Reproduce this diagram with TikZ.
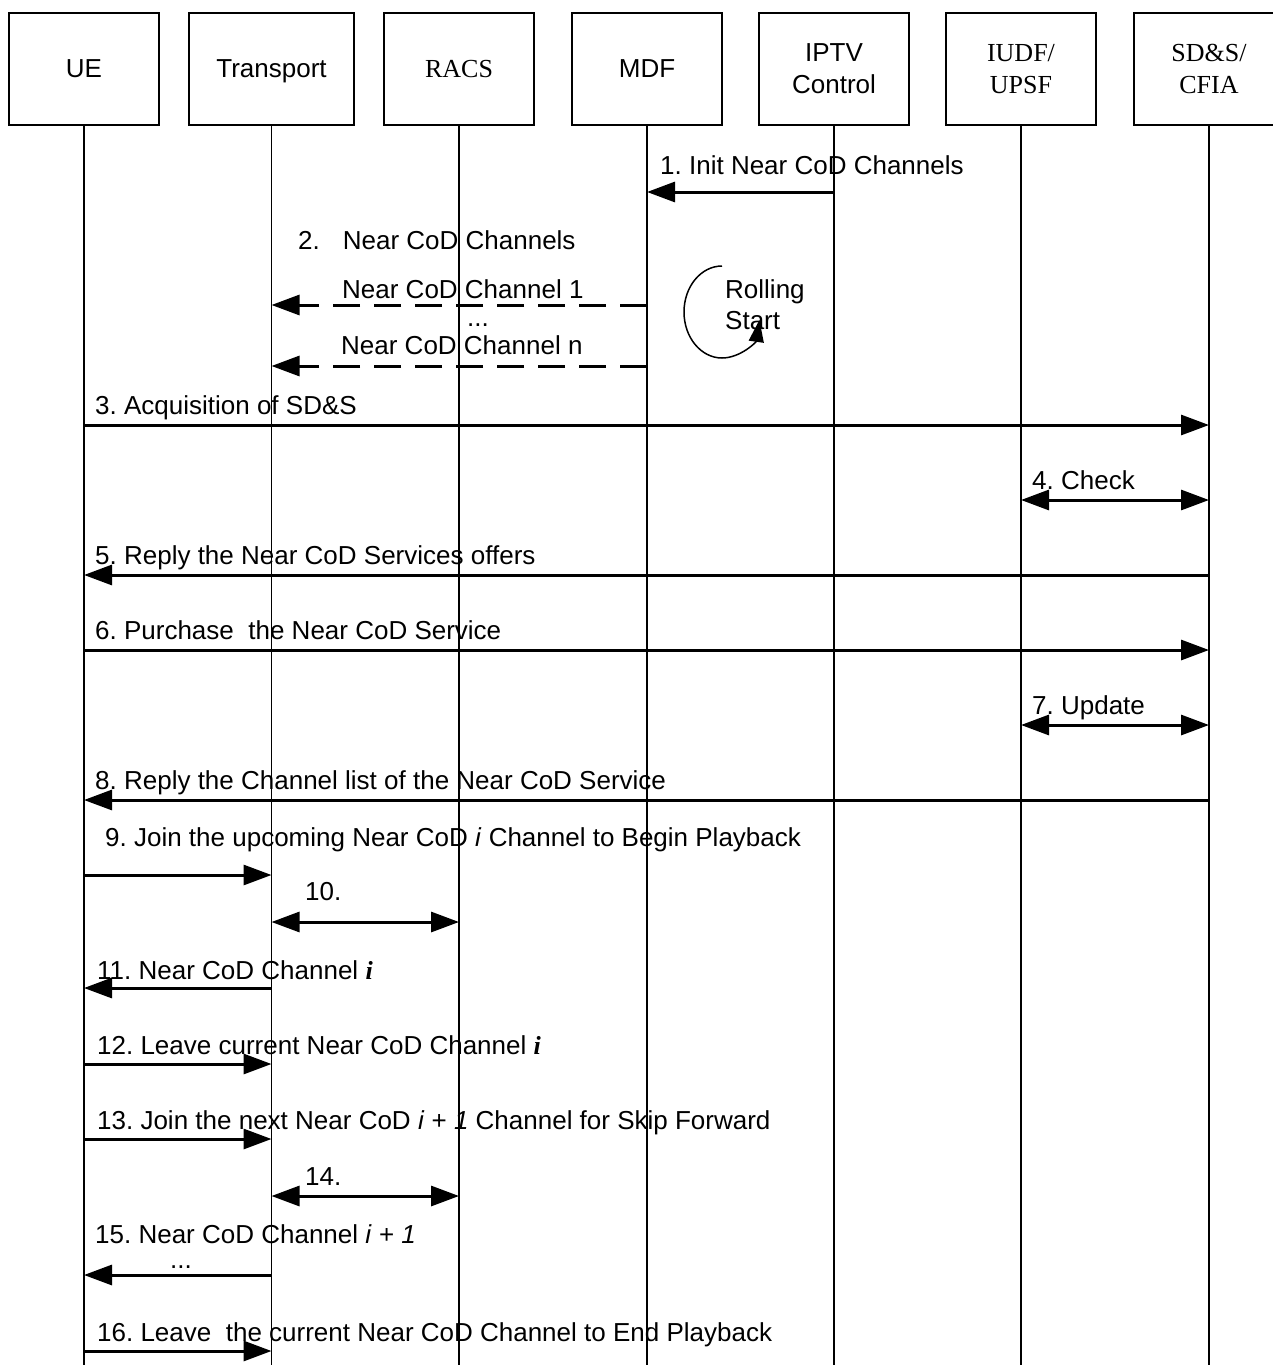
\documentclass[tikz,border=0pt]{standalone}
\usepackage{fontspec}
\setmainfont{Liberation Sans}
\newfontfamily\tnr{Liberation Serif}
\usetikzlibrary{arrows.meta}
\frenchspacing
\begin{document}
\frenchspacing
\begin{tikzpicture}[x=1pt,y=-1pt,
  font=\fontsize{26}{32}\selectfont,
  head/.style={draw, line width=1.5pt, minimum width=150pt, minimum height=112pt, inner sep=0pt, align=center},
  life/.style={line width=1.5pt},
  msg/.style={line width=3pt, -{Triangle[length=28pt,width=20pt]}},
  dmsg/.style={line width=3pt, {Triangle[length=28pt,width=20pt]}-{Triangle[length=28pt,width=20pt]}},
  dsh/.style={msg, dash pattern=on 27pt off 14pt},
  lbl/.style={anchor=base west, inner sep=0pt}]
\useasboundingbox (0,0) rectangle (1273,1365);
% heads
\node[head] (ue) at (84,69) {UE};
\node[head, minimum width=165pt, text depth=0pt] (tr) at (271.5,69) {Transport};
\node[head, font=\fontsize{26}{32}\selectfont\tnr] (racs) at (459,69) {RACS};
\node[head] (mdf) at (647,69) {MDF};
\node[head] (iptv) at (834,69) {IPTV\\Control};
\node[head, font=\fontsize{26}{32}\selectfont\tnr] (iudf) at (1021,69) {IUDF/\\UPSF};
\node[head, font=\fontsize{26}{32}\selectfont\tnr] (sds) at (1209,69) {SD\&S/\\CFIA};
% lifelines
\foreach \n in {ue,tr,racs,mdf,iptv,iudf,sds}{
  \coordinate (\n E) at (\n |- 0,1365);
  \draw[life] (\n) -- (\n E);
}
% 1
\node[lbl] (l1) at (660,174) {1. Init Near CoD Channels};
\draw[msg] (iptv |- 0,192) -- (mdf |- 0,192);
% 2
\node[lbl] (l2) at (298,249) {2.\hspace{23pt}Near CoD Channels};
\node[lbl] (l2a) at (342,298) {Near CoD Channel 1};
\node[lbl] (l2d) at (467,326) {...};
\draw[dsh] (mdf |- 0,305) -- (tr |- 0,305);
\node[lbl] (l2b) at (341,354) {Near CoD Channel n};
\draw[dsh] (mdf |- 0,366) -- (tr |- 0,366);
% rolling start
\node[lbl] (roll) at (725,298) {Rolling};
\node[lbl] (start) at (725,329) {Start};
\draw[line width=1.5pt, -{Triangle[length=22pt,width=15pt]}] (722,266) arc[start angle=-90, end angle=-350, x radius=38, y radius=46];
% 3
\node[lbl] (l3) at (95,414) {3. Acquisition of SD\&S};
\draw[msg] (ue |- 0,425) -- (sds |- 0,425);
% 4
\node[lbl] (l4) at (1032,489) {4. Check};
\draw[dmsg] (iudf |- 0,500) -- (sds |- 0,500);
% 5
\node[lbl] (l5) at (95,564) {5. Reply the Near CoD Services offers};
\draw[msg] (sds |- 0,575) -- (ue |- 0,575);
% 6
\node[lbl] (l6) at (95,639) {6. Purchase\ \ the Near CoD Service};
\draw[msg] (ue |- 0,650) -- (sds |- 0,650);
% 7
\node[lbl] (l7) at (1032,714) {7. Update};
\draw[dmsg] (iudf |- 0,725) -- (sds |- 0,725);
% 8
\node[lbl] (l8) at (95,789) {8. Reply the Channel list of the Near CoD Service};
\draw[msg] (sds |- 0,800) -- (ue |- 0,800);
% 9
\node[lbl] (l9) at (105,846) {9. Join the upcoming Near CoD \textit{i} Channel to Begin Playback};
\draw[msg] (ue |- 0,875) -- (tr |- 0,875);
% 10
\node[lbl] (l10) at (305,900) {10.};
\draw[dmsg] (tr |- 0,922) -- (racs |- 0,922);
% 11
\node[lbl] (l11) at (97,979) {11. Near CoD Channel {\tnr\bfseries\itshape i}};
\draw[msg] (tr |- 0,988) -- (ue |- 0,988);
% 12
\node[lbl] (l12) at (97,1054) {12. Leave current Near CoD Channel {\tnr\bfseries\itshape i}};
\draw[msg] (ue |- 0,1064) -- (tr |- 0,1064);
% 13
\node[lbl] (l13) at (97,1129) {13. Join the next Near CoD \textit{i} + \textit{1} Channel for Skip Forward};
\draw[msg] (ue |- 0,1139) -- (tr |- 0,1139);
% 14
\node[lbl] (l14) at (305,1185) {14.};
\draw[dmsg] (tr |- 0,1196) -- (racs |- 0,1196);
% 15
\node[lbl] (l15) at (95,1243) {15. Near CoD Channel \textit{i} + \textit{1}};
\node[lbl] (l15d) at (170,1268) {...};
\draw[msg] (tr |- 0,1275) -- (ue |- 0,1275);
% 16
\node[lbl] (l16) at (97,1341) {16. Leave\ \ the current Near CoD Channel to End Playback};
\draw[msg] (ue |- 0,1351) -- (tr |- 0,1351);
\end{tikzpicture}
\end{document}
